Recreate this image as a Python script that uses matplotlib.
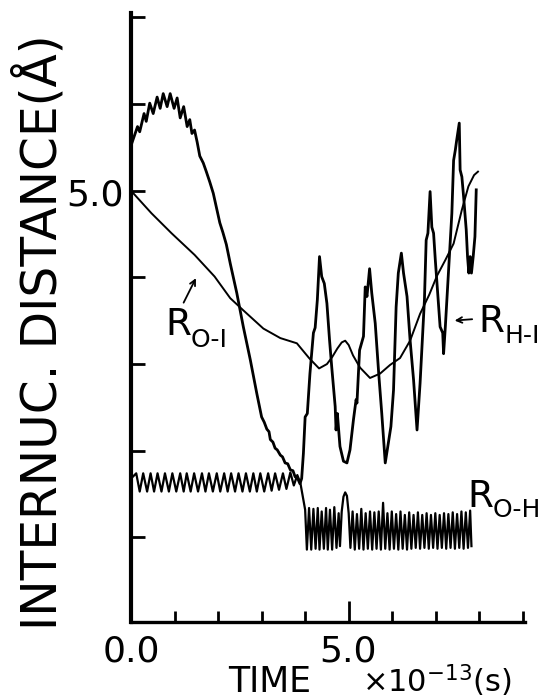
import matplotlib
matplotlib.use("Agg")
import matplotlib.pyplot as plt

# R_O-I : smooth O-I distance
t_oi = [0.00, 0.47, 0.93, 1.46, 1.92, 2.28, 2.58, 3.04, 3.43, 3.81, 4.09, 4.32,
        4.50, 4.62, 4.74, 4.84, 4.92, 5.00, 5.10, 5.26, 5.49, 5.72, 5.95, 6.18,
        6.41, 6.64, 6.85, 7.03, 7.22, 7.41, 7.60, 7.75, 7.88, 7.97]
r_oi = [5.00, 4.74, 4.51, 4.26, 4.01, 3.76, 3.62, 3.41, 3.30, 3.24, 3.07, 2.95,
        3.00, 3.08, 3.18, 3.25, 3.27, 3.22, 3.10, 2.96, 2.84, 2.89, 2.99, 3.07,
        3.27, 3.58, 3.80, 4.02, 4.20, 4.39, 4.78, 5.05, 5.18, 5.22]

# R_H-I : big oscillating H-I distance
t_hi = [0.00, 0.15, 0.20, 0.30, 0.35, 0.43, 0.51, 0.60, 0.67, 0.74, 0.83, 0.90,
        0.99, 1.06, 1.13, 1.21, 1.29, 1.35, 1.40, 1.46, 1.52, 1.58, 1.66, 1.73,
        1.81, 1.89, 1.96, 2.04, 2.11, 2.19, 2.28, 2.43, 2.58, 2.74, 2.89, 3.00,
        3.06, 3.12, 3.17, 3.20, 3.26, 3.31, 3.36, 3.43, 3.48, 3.54, 3.60, 3.66,
        3.72, 3.77, 3.83, 3.88, 3.92, 3.96, 4.00, 4.05, 4.11, 4.19, 4.23, 4.28,
        4.33, 4.38, 4.44, 4.50, 4.56, 4.61, 4.69, 4.71, 4.74, 4.80, 4.88, 4.96,
        5.03, 5.11, 5.17, 5.19, 5.25, 5.34, 5.38, 5.42, 5.48, 5.53, 5.61, 5.69,
        5.76, 5.80, 5.84, 5.92, 5.97, 6.03, 6.09, 6.14, 6.21, 6.26, 6.34, 6.41,
        6.49, 6.57, 6.64, 6.74, 6.78, 6.82, 6.87, 6.91, 6.95, 6.99, 7.05, 7.10,
        7.16, 7.18, 7.22, 7.30, 7.37, 7.41, 7.45, 7.48, 7.54, 7.56, 7.60, 7.64,
        7.70, 7.73, 7.76, 7.79, 7.82, 7.86, 7.90, 7.93]
r_hi = [5.52, 5.74, 5.68, 5.89, 5.80, 6.01, 5.89, 6.08, 5.95, 6.12, 5.97, 6.12,
        5.95, 6.07, 5.84, 5.97, 5.74, 5.82, 5.66, 5.70, 5.56, 5.40, 5.32, 5.22,
        5.10, 4.97, 4.81, 4.63, 4.52, 4.38, 4.16, 3.82, 3.43, 3.05, 2.66, 2.39,
        2.33, 2.25, 2.22, 2.13, 2.10, 2.03, 2.01, 1.95, 1.93, 1.86, 1.85, 1.78,
        1.77, 1.70, 1.68, 1.62, 1.68, 1.97, 2.39, 2.43, 2.89, 3.36, 3.42, 3.74,
        4.24, 4.01, 3.93, 3.70, 3.28, 2.97, 2.51, 2.24, 2.43, 2.05, 1.88, 1.86,
        2.01, 2.36, 2.59, 2.55, 3.16, 3.32, 3.89, 3.78, 4.10, 3.82, 3.47, 2.89,
        2.43, 2.15, 1.86, 2.12, 2.28, 2.70, 3.66, 4.05, 4.28, 4.05, 3.78, 3.28,
        2.82, 2.24, 2.78, 3.74, 4.43, 4.51, 4.99, 4.58, 4.51, 4.20, 3.78, 3.43,
        3.36, 3.12, 3.43, 4.12, 4.74, 5.35, 5.47, 5.58, 5.78, 5.24, 5.16, 4.93,
        4.55, 4.24, 4.05, 4.24, 4.05, 4.24, 4.47, 5.01]

# R_O-H : fast O-H vibration
t_oh = [0.00, 0.12, 0.20, 0.28, 0.37, 0.45, 0.53, 0.61, 0.70, 0.78, 0.87, 0.95,
        1.04, 1.13, 1.21, 1.28, 1.37, 1.45, 1.54, 1.63, 1.71, 1.79, 1.88, 1.97,
        2.05, 2.14, 2.22, 2.30, 2.39, 2.47, 2.56, 2.64, 2.73, 2.81, 2.89, 2.97,
        3.06, 3.15, 3.23, 3.31, 3.40, 3.49, 3.57, 3.66, 3.74, 3.82, 3.89, 3.96,
        4.00, 4.04, 4.09, 4.14, 4.19, 4.24, 4.29, 4.33, 4.38, 4.43, 4.48, 4.52,
        4.57, 4.62, 4.67, 4.72, 4.77, 4.80, 4.84, 4.88, 4.92, 4.96, 5.00, 5.04,
        5.09, 5.14, 5.19, 5.24, 5.29, 5.34, 5.39, 5.44, 5.49, 5.54, 5.59, 5.64,
        5.69, 5.74, 5.79, 5.84, 5.89, 5.94, 5.99, 6.04, 6.09, 6.14, 6.19, 6.24,
        6.29, 6.34, 6.39, 6.44, 6.49, 6.54, 6.59, 6.64, 6.69, 6.74, 6.79, 6.84,
        6.89, 6.94, 6.99, 7.04, 7.09, 7.14, 7.19, 7.24, 7.29, 7.34, 7.39, 7.44,
        7.49, 7.54, 7.59, 7.64, 7.69, 7.74, 7.79, 7.82]
r_oh = [1.68, 1.74, 1.53, 1.74, 1.53, 1.74, 1.53, 1.74, 1.53, 1.74, 1.53, 1.74,
        1.53, 1.74, 1.53, 1.74, 1.53, 1.74, 1.53, 1.74, 1.53, 1.74, 1.53, 1.74,
        1.53, 1.74, 1.53, 1.74, 1.53, 1.74, 1.53, 1.74, 1.53, 1.74, 1.53, 1.74,
        1.53, 1.74, 1.54, 1.74, 1.55, 1.74, 1.56, 1.75, 1.60, 1.72, 1.63, 1.43,
        1.32, 0.86, 1.34, 0.86, 1.33, 0.87, 1.34, 0.86, 1.30, 0.87, 1.34, 0.86,
        1.32, 0.86, 1.35, 0.88, 1.28, 0.90, 1.30, 1.47, 1.52, 1.48, 1.28, 0.88,
        1.30, 0.86, 1.27, 0.87, 1.33, 0.86, 1.28, 0.87, 1.30, 0.86, 1.29, 0.87,
        1.30, 0.86, 1.40, 0.87, 1.28, 0.86, 1.30, 0.87, 1.27, 0.86, 1.30, 0.87,
        1.26, 0.86, 1.29, 0.87, 1.26, 0.88, 1.29, 0.87, 1.26, 0.88, 1.28, 0.87,
        1.26, 0.88, 1.28, 0.87, 1.26, 0.88, 1.28, 0.87, 1.27, 0.88, 1.29, 0.87,
        1.27, 0.88, 1.30, 0.87, 1.29, 0.88, 1.31, 0.90]

x_major = [0.0, 5.0]
x_minor = [1, 2, 3, 4, 6, 7, 8, 9]
y_ticks = [1, 2, 3, 4, 5, 6, 7]

plt.rcParams['font.family'] = ['DejaVu Sans']
plt.rcParams['mathtext.fontset'] = 'dejavusans'

W, H = 552, 700
fig = plt.figure(figsize=(W / 100, H / 100), dpi=100)
ax = fig.add_axes([131 / W, 78 / H, 394 / W, 609 / H])


def fx(x, y):
    return x / W, 1 - y / H


ax.plot(t_oi, r_oi, color='black', lw=1.4)
ax.plot(t_hi, r_hi, color='black', lw=2.0)
ax.plot(t_oh, r_oh, color='black', lw=1.6)

ax.set_xlim(0, 9.05)
ax.set_ylim(0.025, 7.05)
for s in ['top', 'right']:
    ax.spines[s].set_visible(False)
ax.spines['left'].set_linewidth(3)
ax.spines['bottom'].set_linewidth(2.4)

ax.set_xticks(x_major)
ax.set_xticklabels([])
ax.set_xticks(x_minor, minor=True)
ax.tick_params(axis='x', which='major', direction='in', length=15, width=2)
ax.tick_params(axis='x', which='minor', direction='in', length=8, width=2)
ax.set_yticks(y_ticks)
ax.set_yticklabels([])
ax.tick_params(axis='y', direction='in', length=10, width=2)

fs = 26
fig.text(*fx(131, 662), '0.0', fontsize=fs, ha='center', va='baseline')
fig.text(*fx(348, 661), '5.0', fontsize=fs, ha='center', va='baseline')
fig.text(*fx(124, 205), '5.0', fontsize=fs, ha='right', va='baseline')
fig.text(*fx(228, 692), 'TIME', fontsize=25, ha='left', va='baseline')
fig.text(*fx(362, 692), r'$\mathregular{\times10^{-13}}$(s)', fontsize=22,
         ha='left', va='baseline')
fig.text(*fx(40, 332), 'INTERNUC. DISTANCE(Å)', fontsize=35, rotation=90,
         ha='center', va='center')

# curve labels: big R plus smaller subscript
rs, ss = 27, 18
ax.text(0.78, 3.34, 'R', fontsize=rs, ha='left', va='baseline')
ax.text(1.36, 3.20, 'O-I', fontsize=ss, ha='left', va='baseline')
ax.annotate('', xy=(1.52, 4.02), xytext=(1.18, 3.68),
            arrowprops=dict(arrowstyle='->', lw=1.3, color='black'))
ax.text(7.98, 3.37, 'R', fontsize=rs, ha='left', va='baseline')
ax.text(8.57, 3.24, 'H-I', fontsize=ss, ha='left', va='baseline')
ax.annotate('', xy=(7.37, 3.50), xytext=(7.90, 3.52),
            arrowprops=dict(arrowstyle='->', lw=1.3, color='black'))
ax.text(7.72, 1.35, 'R', fontsize=rs, ha='left', va='baseline')
ax.text(8.31, 1.24, 'O-H', fontsize=ss, ha='left', va='baseline')

fig.savefig('out.png', dpi=100, facecolor='white')
